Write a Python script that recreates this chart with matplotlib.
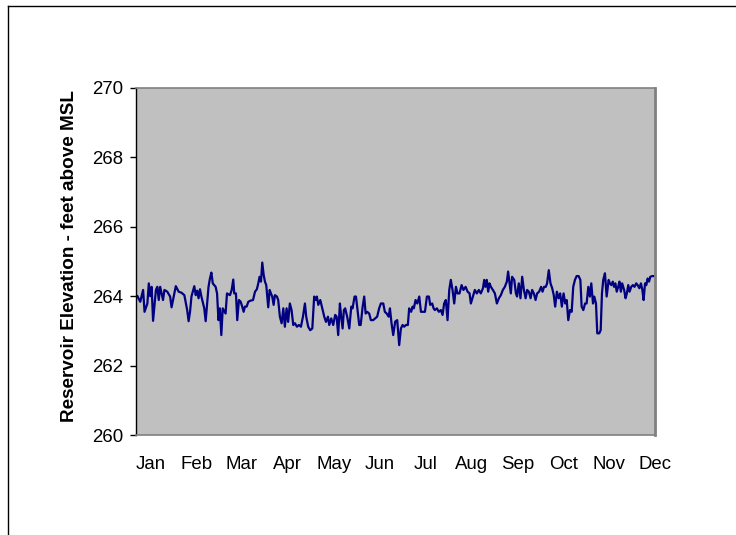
import numpy as np
import matplotlib.pyplot as plt
from matplotlib.lines import Line2D

plt.rcParams['font.family'] = ['Liberation Sans', 'DejaVu Sans']

# day of year and reservoir elevation (ft above MSL)
days = [1, 3, 5, 6, 8, 9, 10, 11, 12, 14, 15, 16, 17, 19, 20, 22, 24, 25, 27, 28,
        30, 32, 34, 36, 37, 38, 39, 41, 42, 43, 44, 45, 46, 48, 49, 51, 52, 53, 54, 56,
        57, 58, 59, 60, 61, 63, 64,
        66.1, 67.3, 68.4, 69.1, 70.3, 71.2, 72.4, 73.6, 74.7, 75.7, 76.6, 77.8, 79, 80.4,
        82.3, 83.7, 85, 86, 86.9, 87.9, 88.8, 89.8, 90.7, 91.6, 93, 94, 94.9, 95.8, 96.8,
        97.7, 99.1, 100, 101.2, 102.4, 103.6, 104.7, 105.9, 107, 108.2, 109.4, 110.6,
        111.8, 113.2, 114.6, 116, 117.4, 118.8, 119.7, 121.1, 122.5, 124, 125.3, 126.3,
        127.2, 128.2, 129.6, 131, 132.4,
        133.6, 135, 135.9, 137.3, 138.7, 140.1, 141.1, 142.2, 143.4, 144.3, 145.3, 146.2,
        147.1, 148.5, 150, 151.4, 152.3, 153.7, 154.7, 155.8, 157, 158, 159.4, 160.5,
        161.5, 162.6, 164, 165.2, 166.8, 168.2, 169.6, 171, 172.2, 173.9, 175, 176.3,
        177.7, 178.6, 179.7, 180.9, 182.3, 183.7, 185.1, 186.3, 187.5, 188.6, 189.8,
        191.2, 192.1, 193.5, 194.5, 195.4, 196.6, 197.8, 199.2,
        200.4, 201.8, 203.2, 204.6, 206, 206.9, 208.3, 209.3, 210.2, 211.6, 213, 214.4,
        215.6, 216.7, 217.9, 219.1, 220.3, 221.4, 222.6, 223.8, 225, 226.1, 227.5, 229,
        230.3, 231.8, 233.2, 234.6, 235.5, 236.9, 238.3, 239.7, 241.1, 242.5, 244, 244.9,
        245.8, 246.7, 247.7, 248.6, 249.6, 251, 252.4, 253.8, 255.2, 256.6, 258, 259.4,
        260.8, 261.7, 262.7, 263.6, 264.5, 266,
        267.2, 268, 269.2, 270.4, 271.6, 272.8, 274, 275.1, 276.3, 277.5, 278.6, 279.8,
        281, 282.1, 283.5, 284.9, 285.9, 287, 288.2, 289.1, 290.3, 291.5, 292.7, 293.8,
        294.8, 296, 297.2, 298.3, 299.5, 300.7, 301.9, 302.9, 304, 305.2, 306.4, 307.5,
        308.7, 309.9, 311.3, 312.5, 313.4, 314.6, 315.8, 316.9, 318.1, 319.2, 320.2,
        321.4, 322.3, 323.5, 324.4, 325.8, 326.8, 327.7, 328.6, 329.8, 331, 332.4,
        333.3, 334.3, 335.3, 336.2, 337.1, 338.1, 339.1, 340, 341, 341.9, 343.3, 344.3,
        345.2, 346.2, 347.1, 348.3, 349.5, 350.6, 351.8, 352.8, 354, 355.1, 356.1, 357,
        358, 358.9, 359.8, 360.8, 361.7, 363.1, 364.5]

elevation = [264.0, 263.84, 264.18, 263.55, 263.79, 264.37, 264.0, 264.27, 263.29, 264.18,
             264.27, 263.89, 264.27, 263.89, 264.18, 264.13, 263.99, 263.68, 264.08, 264.29,
             264.13, 264.1, 264.03, 263.6, 263.28, 263.55, 263.99, 264.29, 264.03, 264.16,
             263.94, 264.2, 263.99, 263.65, 263.28, 264.27, 264.51, 264.68, 264.37, 264.27,
             264.08, 263.31, 263.65, 262.88, 263.65, 263.5, 264.08,
             264.03, 264.18, 264.48, 264.08, 264.08, 263.31, 263.89, 263.84, 263.7, 263.55,
             263.7, 263.7, 263.84, 263.87, 263.89, 264.13, 264.2, 264.37, 264.56, 264.42,
             264.97, 264.61, 264.42, 264.32, 263.68, 264.18, 264.08, 263.99, 263.75, 264.03,
             263.99, 263.89, 263.41, 263.22, 263.65, 263.12, 263.65, 263.26, 263.79, 263.6,
             263.17, 263.22, 263.12, 263.17, 263.12, 263.41, 263.79, 263.41, 263.12, 263.02,
             263.07, 263.99, 263.89, 263.99, 263.75, 263.89, 263.65, 263.41,
             263.26, 263.41, 263.17, 263.36, 263.17, 263.46, 263.41, 262.88, 263.79, 263.41,
             263.07, 263.6, 263.65, 263.41, 263.07, 263.7, 263.65, 263.99, 263.99, 263.6,
             263.17, 263.17, 263.7, 263.99, 263.5, 263.55, 263.5, 263.31, 263.31, 263.36,
             263.41, 263.65, 263.79, 263.79, 263.55, 263.5, 263.41, 263.65, 263.22, 262.88,
             263.27, 263.31, 262.59, 263.07, 263.17, 263.12, 263.17, 263.17, 263.65, 263.55,
             263.7, 263.65, 263.89, 263.79, 263.99,
             263.55, 263.55, 263.55, 263.99, 263.99, 263.75, 263.79, 263.65, 263.6, 263.65,
             263.55, 263.6, 263.46, 263.79, 263.89, 263.31, 264.18, 264.47, 264.18, 263.79,
             264.27, 264.08, 264.08, 264.32, 264.18, 264.27, 264.13, 264.08, 263.79, 263.99,
             264.18, 264.08, 264.18, 264.08, 264.23, 264.47, 264.27, 264.47, 264.13, 264.37,
             264.27, 264.18, 264.08, 263.79, 263.94, 264.03, 264.18, 264.27, 264.42, 264.71,
             264.37, 264.08, 264.56, 264.47,
             264.08, 263.99, 264.37, 263.94, 264.56, 264.18, 263.94, 264.18, 264.13, 263.94,
             264.18, 264.08, 263.89, 264.08, 264.13, 264.27, 264.13, 264.27, 264.27, 264.37,
             264.75, 264.37, 264.23, 264.03, 263.7, 264.13, 263.94, 264.08, 263.7, 264.08,
             263.79, 263.89, 263.31, 263.6, 263.55, 264.27, 264.47, 264.58, 264.58, 264.47,
             263.7, 263.6, 263.79, 263.79, 264.27, 263.99, 264.37, 263.79, 263.99, 263.79,
             262.93, 262.93, 263.02, 264.08, 264.47, 264.66, 263.99, 264.47,
             264.37, 264.32, 264.42, 264.27, 264.37, 264.13, 264.27, 264.42, 264.13, 264.37,
             264.18, 263.94, 264.08, 264.32, 264.13, 264.27, 264.32, 264.27, 264.37, 264.32,
             264.23, 264.37, 264.18, 263.89, 264.37, 264.32, 264.51, 264.42, 264.56, 264.58,
             264.58]

months = ['Jan', 'Feb', 'Mar', 'Apr', 'May', 'Jun', 'Jul', 'Aug', 'Sep', 'Oct', 'Nov', 'Dec']
y_ticks = [260, 262, 264, 266, 268, 270]

W, H = 736, 535
fig = plt.figure(figsize=(W / 100, H / 100), dpi=100)
ax = fig.add_axes([136 / W, 1 - 435 / H, 519 / W, 347 / H])
ax.set_facecolor('#C0C0C0')

ax.plot(days, elevation, color='#000080', lw=1.6)

ax.set_xlim(0, 365)
ax.set_ylim(260, 270)
ax.set_yticks(y_ticks)
ax.set_xticks(np.linspace(10, 365, len(months)))
ax.set_xticklabels(months)
ax.tick_params(axis='x', length=0, pad=15, labelsize=13.4)
ax.tick_params(axis='y', length=4.3, width=1, direction='out', pad=5, labelsize=13.4)

for side in ['top', 'right', 'bottom']:
    ax.spines[side].set_color('#808080')
ax.spines['right'].set_linewidth(2)
ax.spines['top'].set_linewidth(1.2)
ax.spines['bottom'].set_linewidth(1.2)
ax.spines['left'].set_color('black')
ax.spines['left'].set_linewidth(1)

fig.text(70 / W, 1 - 256 / H, 'Reservoir Elevation - feet above MSL',
         rotation=90, ha='center', va='center', fontsize=13.6, fontweight='bold')

# outer chart frame (only top and left edges visible)
fig.add_artist(Line2D([8 / W, 1], [1 - 6 / H, 1 - 6 / H], transform=fig.transFigure,
                      color='black', lw=1))
fig.add_artist(Line2D([8 / W, 8 / W], [0, 1 - 6 / H], transform=fig.transFigure,
                      color='black', lw=1))

fig.savefig('out.png', dpi=100)
